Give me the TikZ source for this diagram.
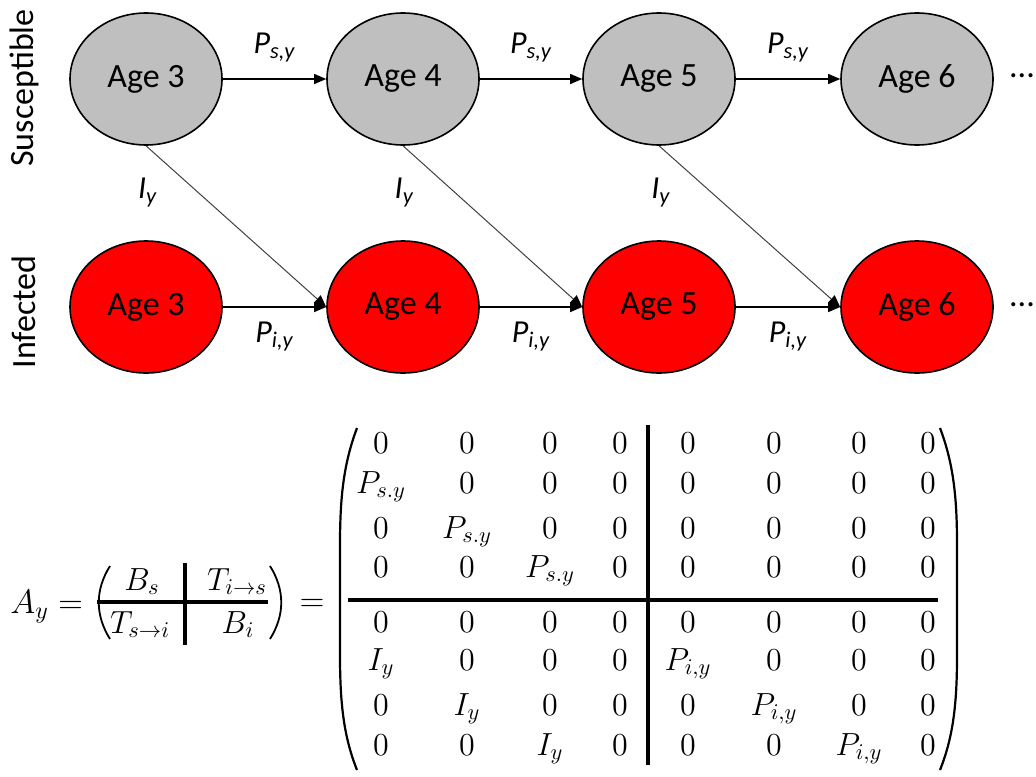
\RequirePackage{fix-cm}
\documentclass[tikz,border=0pt]{standalone}
\usepackage{amsmath}
\usepackage[no-math]{fontspec}
\setmainfont{Carlito}
\usetikzlibrary{arrows.meta,positioning,shapes.geometric}
\definecolor{SusGray}{HTML}{BFBFBF}
\definecolor{InfRed}{HTML}{FF0000}
\definecolor{Link}{HTML}{404040}

\begin{document}
\begin{tikzpicture}[x=0.5pt,y=-0.5pt,
    age/.style={ellipse,draw=black,line width=0.8pt,minimum width=76pt,
      minimum height=66pt,inner sep=0pt,font=\fontsize{17}{20}\selectfont},
    sus/.style={age,fill=SusGray},
    inf/.style={age,fill=InfRed},
    flow/.style={-{Triangle[length=6pt,width=5pt]},line width=0.6pt},
    link/.style={-{Triangle[length=6pt,width=5pt,color=black]},draw=Link,
      line width=0.5pt},
    lab/.style={font=\fontsize{16}{19}\selectfont\itshape},
    side/.style={rotate=90,font=\fontsize{17}{20}\selectfont},
    entry/.style={anchor=base,inner sep=0pt,font=\fontsize{16}{19}\selectfont},
    blk/.style={anchor=base,inner sep=0pt,font=\fontsize{16}{19}\selectfont},
    big/.style={anchor=base,inner sep=0pt,font=\fontsize{17}{20}\selectfont},
    paren/.style={line width=1.1pt},
    divider/.style={line width=1.6pt}
  ]
    \useasboundingbox (0,0) rectangle (1036,776);

    % age classes
    \foreach \i/\x in {3/146,4/403,5/659,6/917} {
      \node[sus] (s\i) at (\x,79) {Age \i};
      \node[inf] (n\i) at (\x,307) {Age \i};
    }
    \node[side] (susc) at (24,88) {Susceptible};
    \node[side] (infc) at (24,312) {Infected};
    \node[font=\fontsize{17}{20}\selectfont] (more1) at (1022,76) {...};
    \node[font=\fontsize{17}{20}\selectfont] (more2) at (1022,305) {...};

    % transitions
    \foreach \i/\j in {3/4,4/5,5/6} {
      \draw[flow] (s\i) -- (s\j) node[lab,midway,above=5pt] {P\textsubscript{s,y}};
      \draw[flow] (n\i) -- (n\j) node[lab,midway,below=4pt] {P\textsubscript{i,y}};
      \draw[link] (s\i.south) -- (n\j.west)
        node[lab,pos=0.29,left=17pt] {I\textsubscript{y}};
    }

    % block form
    \node[big,anchor=base west] (ay) at (10,613) {$A_y =$};
    \node[blk] (bs) at (142,590) {$B_s$};
    \node[blk] (tis) at (237,590) {$T_{i\to s}$};
    \node[blk] (tsi) at (140,633) {$T_{s\to i}$};
    \node[blk] (bi) at (238,633) {$B_i$};
    \draw[divider] (97,602) -- (268,602);
    \draw[divider] (185,563) -- (185,645);
    \draw[paren,line width=0.9pt] (110,566) .. controls (95,590) and (95,615) .. (110,639);
    \draw[paren,line width=0.9pt] (270,566) .. controls (285,590) and (285,615) .. (270,639);
    \node[big] (eq) at (312,611) {$=$};

    % full matrix
    \foreach \r/\yb in {1/453,2/493,3/538,4/577,5/632,6/670,7/715,8/755}
      \foreach \c/\xc in {1/381,2/467,3/550,4/620,5/688,6/774,7/859,8/928} {
        \pgfmathtruncatemacro\d{\r-\c}
        \def\ent{0}
        \ifnum\d=1 \ifnum\r<5 \def\ent{P_{s.y}}\fi\ifnum\c>4 \def\ent{P_{i,y}}\fi\fi
        \ifnum\d=5 \def\ent{I_y}\fi
        \node[entry] (m\r\c) at (\xc,\yb) {$\ent$};
      }
    \draw[divider] (648,425) -- (648,765);
    \draw[divider] (348,600) -- (938,600);
    \draw[paren] (357,428) .. controls (343,465) and (340,500) .. (340,545)
      -- (340,655) .. controls (340,700) and (343,735) .. (357,770);
    \draw[paren] (940,428) .. controls (954,465) and (957,500) .. (957,545)
      -- (957,655) .. controls (957,700) and (954,735) .. (940,770);
\end{tikzpicture}
\end{document}
